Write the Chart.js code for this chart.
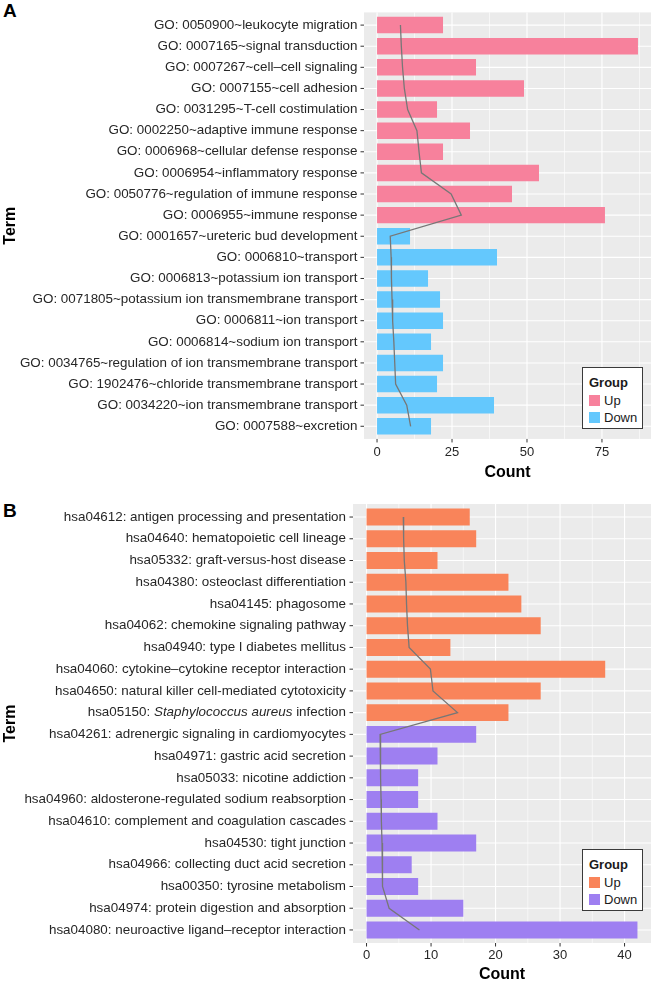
<!DOCTYPE html>
<html>
<head>
<meta charset="utf-8">
<script src="https://cdn.jsdelivr.net/npm/chart.js@4.4.1/dist/chart.umd.min.js"></script>
<style>
  html, body { margin: 0; padding: 0; background: #fff; overflow: hidden; }
  body { width: 652px; height: 982px; position: relative; font-family: 'Liberation Sans', Arial, sans-serif; }
  canvas { position: absolute; left: 0; }
  .tag { position: absolute; left: 3px; font-size: 19px; line-height: 19px; font-weight: bold; color: #000; }
  .legend { position: absolute; left: 582px; width: 61px; height: 62px; box-sizing: border-box;
            border: 1px solid #3a3a3a; background: #fff; color: #1a1a1a; font-size: 13px; }
  .legend div { position: absolute; left: 6px; height: 17px; line-height: 17px; white-space: nowrap; }
  .legend .key { display: inline-block; width: 11px; height: 11px; vertical-align: -1px; margin-right: 4px; }
</style>
</head>
<body>
<div class="tag" style="top:1px">A</div>
<canvas id="chartA" width="652" height="490" style="top:0"></canvas>
<div class="tag" style="top:501px">B</div>
<canvas id="chartB" width="652" height="500" style="top:490px"></canvas>
<div class="legend" id="legendA" style="top:367px"></div>
<div class="legend" id="legendB" style="top:849px"></div>

<script>
// Panel A: GO terms
const termsA = [
  'GO: 0050900~leukocyte migration',
  'GO: 0007165~signal transduction',
  'GO: 0007267~cell\u2013cell signaling',
  'GO: 0007155~cell adhesion',
  'GO: 0031295~T-cell costimulation',
  'GO: 0002250~adaptive immune response',
  'GO: 0006968~cellular defense response',
  'GO: 0006954~inflammatory response',
  'GO: 0050776~regulation of immune response',
  'GO: 0006955~immune response',
  'GO: 0001657~ureteric bud development',
  'GO: 0006810~transport',
  'GO: 0006813~potassium ion transport',
  'GO: 0071805~potassium ion transmembrane transport',
  'GO: 0006811~ion transport',
  'GO: 0006814~sodium ion transport',
  'GO: 0034765~regulation of ion transmembrane transport',
  'GO: 1902476~chloride transmembrane transport',
  'GO: 0034220~ion transmembrane transport',
  'GO: 0007588~excretion'
];
const groupsA = ['Up','Up','Up','Up','Up','Up','Up','Up','Up','Up',
                 'Down','Down','Down','Down','Down','Down','Down','Down','Down','Down'];
const countsA = [22, 87, 33, 49, 20, 31, 22, 54, 45, 76, 11, 40, 17, 21, 22, 18, 22, 20, 39, 18];
const lineA = [7.8, 8.1, 8.5, 9.1, 10.2, 13.3, 14.0, 14.8, 24.7, 28.1,
               4.4, 4.7, 4.8, 5.0, 5.2, 5.6, 5.9, 6.2, 9.9, 11.2];
const xTicksA = [0, 25, 50, 75];
const xMinorA = [12.5, 37.5, 62.5, 87.5];

// Panel B: KEGG pathways
const termsB = [
  'hsa04612: antigen processing and presentation',
  'hsa04640: hematopoietic cell lineage',
  'hsa05332: graft-versus-host disease',
  'hsa04380: osteoclast differentiation',
  'hsa04145: phagosome',
  'hsa04062: chemokine signaling pathway',
  'hsa04940: type I diabetes mellitus',
  'hsa04060: cytokine\u2013cytokine receptor interaction',
  'hsa04650: natural killer cell-mediated cytotoxicity',
  'hsa05150: Staphylococcus aureus infection',
  'hsa04261: adrenergic signaling in cardiomyocytes',
  'hsa04971: gastric acid secretion',
  'hsa05033: nicotine addiction',
  'hsa04960: aldosterone-regulated sodium reabsorption',
  'hsa04610: complement and coagulation cascades',
  'hsa04530: tight junction',
  'hsa04966: collecting duct acid secretion',
  'hsa00350: tyrosine metabolism',
  'hsa04974: protein digestion and absorption',
  'hsa04080: neuroactive ligand\u2013receptor interaction'
];
const groupsB = groupsA;
const countsB = [16, 17, 11, 22, 24, 27, 13, 37, 27, 22, 17, 11, 8, 8, 11, 17, 7, 8, 15, 42];
const lineB = [5.7, 5.75, 5.85, 6.1, 6.2, 6.35, 6.6, 9.9, 10.3, 14.1,
               2.1, 2.15, 2.2, 2.25, 2.3, 2.4, 2.45, 2.5, 3.5, 8.2];
const xTicksB = [0, 10, 20, 30, 40];
const xMinorB = [5, 15, 25, 35];
// the species name in this label is set in italics
const italicLabelB = { index: 9, parts: ['hsa05150: ', 'Staphylococcus aureus', ' infection'] };

const colorsA = { Up: '#F7819C', Down: '#64C8FD' };
const colorsB = { Up: '#F9845A', Down: '#9E7FF1' };

Chart.defaults.font.family = "'Liberation Sans', Arial, sans-serif";
const textColor = '#262626';
const labelSize = 13.4;

// ggplot-like grey panel, white grid, tick marks and italic label
const panelPlugin = {
  id: 'panel',
  beforeDatasetsDraw(chart, args, opts) {
    const { ctx, chartArea: a, scales: { x, y } } = chart;
    const step = y.getPixelForTick(1) - y.getPixelForTick(0);
    const top = a.top - step * 0.1;
    const bottom = a.bottom + step * 0.1;
    const seg = (x1, y1, x2, y2) => { ctx.beginPath(); ctx.moveTo(x1, y1); ctx.lineTo(x2, y2); ctx.stroke(); };
    ctx.save();
    ctx.fillStyle = '#EBEBEB';
    ctx.fillRect(a.left, top, a.right - a.left, bottom - top);
    ctx.strokeStyle = '#FFFFFF';
    ctx.lineWidth = 0.6;
    opts.minor.forEach(v => { const px = x.getPixelForValue(v); seg(px, top, px, bottom); });
    ctx.lineWidth = 1.1;
    x.ticks.forEach(t => { const px = x.getPixelForValue(t.value); seg(px, top, px, bottom); });
    y.ticks.forEach((t, i) => { const py = y.getPixelForTick(i); seg(a.left, py, a.right, py); });
    ctx.strokeStyle = '#333333';
    ctx.lineWidth = 1;
    x.ticks.forEach(t => { const px = x.getPixelForValue(t.value); seg(px, bottom, px, bottom + 3.5); });
    y.ticks.forEach((t, i) => { const py = y.getPixelForTick(i); seg(a.left - 3.5, py, a.left, py); });
    ctx.restore();
  },
  afterDraw(chart, args, opts) {
    if (!opts.italic) return;
    const { ctx, chartArea: a, scales: { y } } = chart;
    const it = opts.italic;
    const fam = Chart.defaults.font.family;
    const fonts = [labelSize + 'px ' + fam, 'italic ' + labelSize + 'px ' + fam, labelSize + 'px ' + fam];
    ctx.save();
    let widths = it.parts.map((p, i) => { ctx.font = fonts[i]; return ctx.measureText(p).width; });
    let px = a.left - opts.labelPad - widths.reduce((s, w) => s + w, 0);
    const py = y.getPixelForTick(it.index);
    ctx.fillStyle = textColor;
    ctx.textBaseline = 'middle';
    ctx.textAlign = 'left';
    it.parts.forEach((p, i) => { ctx.font = fonts[i]; ctx.fillText(p, px, py); px += widths[i]; });
    ctx.restore();
  }
};

function makeChart(id, c) {
  const ctx = document.getElementById(id).getContext('2d');
  return new Chart(ctx, {
    type: 'bar',
    data: {
      labels: c.terms,
      datasets: [
        {
          type: 'line',
          indexAxis: 'y',
          data: c.line,
          borderColor: '#777777',
          borderWidth: 1.3,
          pointRadius: 0,
          fill: false,
          order: 0
        },
        {
          label: 'Up',
          data: c.counts.map((v, i) => c.groups[i] === 'Up' ? v : null),
          backgroundColor: c.colors.Up,
          grouped: false,
          barPercentage: 0.78,
          categoryPercentage: 1,
          order: 1
        },
        {
          label: 'Down',
          data: c.counts.map((v, i) => c.groups[i] === 'Down' ? v : null),
          backgroundColor: c.colors.Down,
          grouped: false,
          barPercentage: 0.78,
          categoryPercentage: 1,
          order: 1
        }
      ]
    },
    options: {
      indexAxis: 'y',
      responsive: false,
      animation: false,
      layout: { padding: { top: c.padTop, right: 1, left: 0, bottom: 0 } },
      scales: {
        x: {
          type: 'linear',
          min: c.xMin,
          max: c.xMax,
          afterBuildTicks: scale => { scale.ticks = c.xTicks.map(v => ({ value: v })); },
          afterFit: scale => { scale.height = c.xHeight; },
          ticks: { color: textColor, font: { size: 13 }, padding: c.xTickPad },
          grid: { display: false, drawTicks: false },
          border: { display: false },
          title: {
            display: true,
            text: 'Count',
            color: '#000',
            font: { size: 16, weight: 'bold' },
            padding: { top: 0, bottom: c.titlePad }
          }
        },
        y: {
          type: 'category',
          afterFit: scale => { scale.width = c.yWidth; },
          ticks: {
            color: textColor,
            font: { size: labelSize },
            padding: c.yTickPad,
            autoSkip: false,
            callback: (v, i) => (c.italic && i === c.italic.index) ? '' : c.terms[i]
          },
          grid: { display: false, drawTicks: false },
          border: { display: false },
          title: {
            display: true,
            text: 'Term',
            color: '#000',
            font: { size: 16, weight: 'bold' },
            padding: { top: 1, bottom: 0 }
          }
        }
      },
      plugins: {
        legend: { display: false },
        tooltip: { enabled: false },
        panel: { minor: c.minor, italic: c.italic, labelPad: c.yTickPad }
      }
    },
    plugins: [panelPlugin]
  });
}

function makeLegend(id, colors) {
  const box = document.getElementById(id);
  const rows = ['Group', 'Up', 'Down'];
  const tops = [6, 24, 41];
  rows.forEach((r, i) => {
    const d = document.createElement('div');
    d.style.top = tops[i] + 'px';
    if (i === 0) {
      d.style.fontWeight = 'bold';
      d.textContent = r;
    } else {
      const k = document.createElement('span');
      k.className = 'key';
      k.style.background = colors[r];
      d.appendChild(k);
      d.appendChild(document.createTextNode(r));
    }
    box.appendChild(d);
  });
}

makeChart('chartA', {
  terms: termsA, groups: groupsA, counts: countsA, line: lineA, colors: colorsA,
  xTicks: xTicksA, minor: xMinorA, xMin: -4.35, xMax: 91.35,
  padTop: 3.17, xHeight: 53.17, xTickPad: 7.4, titlePad: 7.4, yWidth: 364, yTickPad: 6.5
});
makeChart('chartB', {
  terms: termsB, groups: groupsB, counts: countsB, line: lineB, colors: colorsB,
  xTicks: xTicksB, minor: xMinorB, xMin: -2.1, xMax: 44.1, italic: italicLabelB,
  padTop: 16.17, xHeight: 49.17, xTickPad: 6.4, titlePad: 5.4, yWidth: 353, yTickPad: 7
});
makeLegend('legendA', colorsA);
makeLegend('legendB', colorsB);
</script>
</body>
</html>
